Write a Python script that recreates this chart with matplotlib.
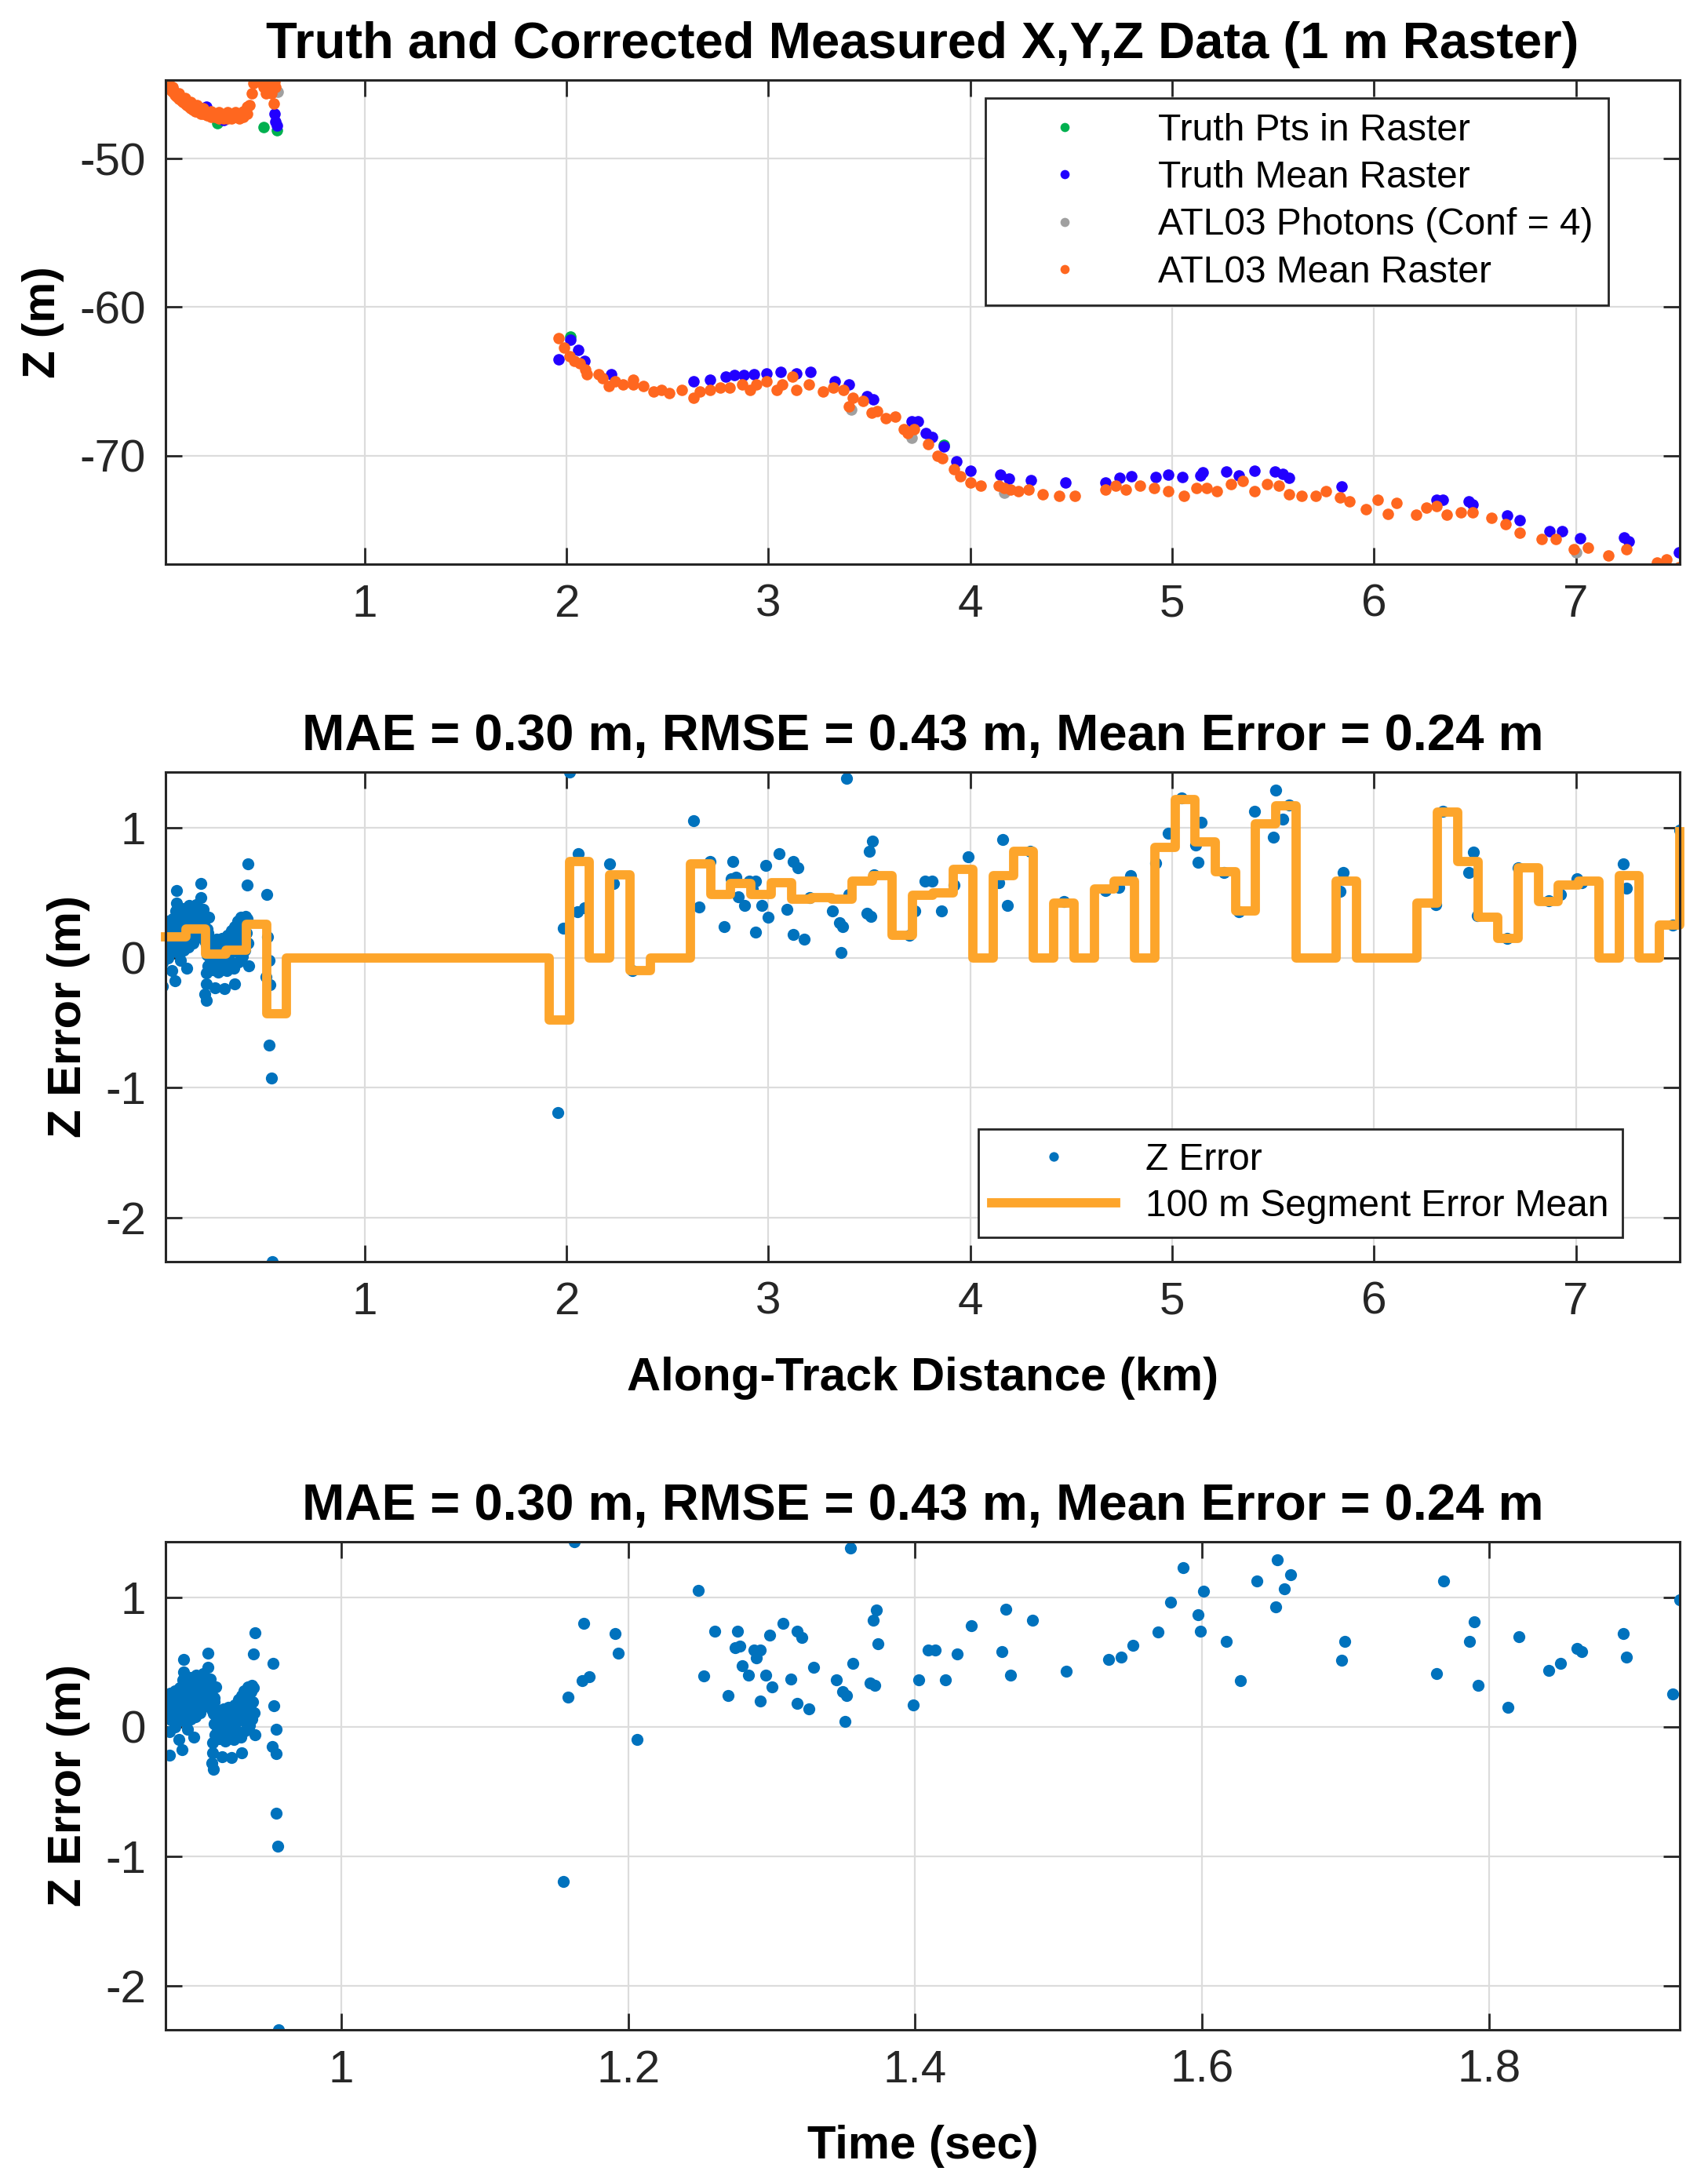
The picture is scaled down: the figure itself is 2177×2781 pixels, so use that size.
import numpy as np
import matplotlib
matplotlib.use("Agg")
import matplotlib.pyplot as plt
from matplotlib.ticker import FormatStrFormatter

plt.rcParams['font.family'] = ['Liberation Sans', 'DejaVu Sans']
plt.rcParams['axes.unicode_minus'] = False

# ---------------- top panel data (along-track km, Z m) ----------------
atl_mean_d = [0.016, 0.02, 0.03, 0.04, 0.05, 0.06, 0.07, 0.08, 0.09, 0.10, 0.11, 0.12, 0.13,
              0.14, 0.15, 0.16, 0.17, 0.18, 0.19, 0.20, 0.22, 0.24, 0.26, 0.28, 0.30, 0.32,
              0.34, 0.36, 0.38, 0.40, 0.42, 0.43, 0.44, 0.45, 0.46, 0.47, 0.48, 0.49, 0.50,
              0.51, 0.52, 0.53, 0.54, 0.55, 0.555, 0.56,
              0.03, 0.05, 0.08, 0.11, 0.14, 0.17, 0.20, 0.24, 0.28, 0.32, 0.36, 0.40, 0.42,
              1.962, 1.988, 2.014, 2.04, 2.066, 2.092, 2.10, 2.16, 2.18, 2.21, 2.24, 2.28,
              2.33, 2.33, 2.38, 2.43, 2.47, 2.51, 2.57, 2.63, 2.66, 2.71, 2.76, 2.81, 2.87,
              2.91, 2.94, 2.99, 3.04, 3.07, 3.12, 3.14, 3.20, 3.27, 3.32, 3.37, 3.40, 3.42,
              3.47, 3.51, 3.54, 3.58, 3.63, 3.67, 3.69, 3.72, 3.79, 3.84, 3.86, 3.92, 3.95,
              4.00, 4.05, 4.14, 4.17, 4.20, 4.24, 4.29, 4.36, 4.44, 4.52, 4.67, 4.72, 4.77,
              4.84, 4.91, 4.98, 5.06, 5.12, 5.17, 5.22, 5.29, 5.35, 5.41, 5.47, 5.53, 5.58,
              5.64, 5.71, 5.76, 5.83, 5.88, 5.96, 6.02, 6.07, 6.11, 6.21, 6.26, 6.31, 6.36,
              6.43, 6.49, 6.58, 6.65, 6.72, 6.83, 6.90, 6.99, 7.06, 7.16, 7.25, 7.40, 7.45,
              7.51]
atl_mean_z = [-44.7, -45.0, -45.2, -45.4, -45.5, -45.7, -45.8, -46.0, -46.1, -46.2, -46.3, -46.4, -46.5,
              -46.6, -46.7, -46.8, -46.8, -46.9, -47.0, -47.0, -47.1, -47.2, -47.2, -47.3, -47.3, -47.3,
              -47.3, -47.2, -47.3, -47.2, -47.0, -46.4, -45.6, -44.9, -44.7, -44.7, -44.8, -44.7, -45.2,
              -45.6, -45.0, -44.8, -45.6, -46.3, -44.8, -45.2,
              -44.9, -45.2, -45.6, -45.9, -46.2, -46.4, -46.6, -46.8, -46.9, -46.9, -46.9, -46.8, -46.5,
              -62.1, -62.7, -63.3, -63.6, -63.8, -64.2, -64.5, -64.5, -64.8, -65.3, -65.0, -65.2,
              -64.9, -65.2, -65.3, -65.7, -65.6, -65.8, -65.6, -66.1, -65.7, -65.6, -65.4, -65.4, -65.2,
              -65.6, -65.2, -65.0, -65.6, -65.2, -64.7, -65.6, -65.2, -65.7, -65.4, -65.6, -66.7, -66.1,
              -66.3, -67.1, -67.0, -67.5, -67.4, -68.2, -68.5, -68.2, -69.2, -70.0, -70.2, -70.9, -71.4,
              -71.8, -72.0, -72.0, -72.2, -72.3, -72.4, -72.3, -72.6, -72.7, -72.7, -72.3, -72.0, -72.3,
              -72.0, -72.2, -72.4, -72.7, -72.2, -72.2, -72.4, -71.9, -71.7, -72.4, -71.9, -72.0, -72.6,
              -72.7, -72.7, -72.4, -72.8, -73.1, -73.6, -73.0, -73.9, -73.2, -74.0, -73.5, -73.4, -74.0,
              -73.8, -73.8, -74.2, -74.6, -75.2, -75.6, -75.6, -76.3, -76.2, -76.7, -76.3, -77.2, -77.0,
              -77.5]

truth_mean_d = [0.02, 0.05, 0.09, 0.13, 0.19, 0.216, 0.30, 0.555, 0.56, 0.565,
                1.962, 2.02, 2.06, 2.09, 2.22, 2.63, 2.71, 2.79, 2.83, 2.88, 2.93, 2.99, 3.06,
                3.14, 3.21, 3.33, 3.40, 3.49, 3.52, 3.71, 3.74, 3.78, 3.81, 3.87, 3.93, 4.00,
                4.15, 4.19, 4.30, 4.47, 4.67, 4.74, 4.80, 4.92, 4.98, 5.05, 5.14, 5.15, 5.27,
                5.33, 5.41, 5.51, 5.55, 5.58, 5.84, 6.31, 6.34, 6.47, 6.49, 6.66, 6.72, 6.87,
                6.93, 7.02, 7.24, 7.26, 7.51]
truth_mean_z = [-44.8, -45.3, -45.9, -46.3, -46.6, -46.5, -47.4, -47.0, -47.5, -47.8,
                -63.5, -62.2, -62.9, -63.6, -64.5, -65.0, -64.9, -64.7, -64.6, -64.6, -64.5, -64.45, -64.35,
                -64.45, -64.35, -65.0, -65.2, -66.0, -66.2, -67.7, -67.7, -68.5, -68.75, -69.4, -70.4, -71.0,
                -71.3, -71.55, -71.65, -71.8, -71.8, -71.5, -71.4, -71.45, -71.3, -71.45, -71.33, -71.1, -71.07,
                -71.33, -71.0, -71.07, -71.25, -71.5, -72.05, -73.0, -73.0, -73.1, -73.3, -74.05, -74.37, -75.07,
                -75.1, -75.57, -75.52, -75.8, -76.5]

truth_pts_d = [0.27, 0.50, 0.565, 2.02, 3.87]
truth_pts_z = [-47.6, -47.9, -48.1, -62.0, -69.3]

photon_d = [0.57, 3.41, 3.71, 4.17, 7.0]
photon_z = [-45.5, -66.9, -68.8, -72.5, -76.5]

# ---------------- Z error points (read against time, sec) ----------------
err_time = [
    # first cluster
    0.8800, 0.8805, 0.8810, 0.8815, 0.8820, 0.8828, 0.8832, 0.8840, 0.8845, 0.8850, 0.8858,
    0.8862, 0.8870, 0.8875, 0.8880, 0.8886, 0.8890, 0.8897, 0.8902, 0.8908, 0.8912, 0.8920,
    0.8925, 0.8930, 0.8936, 0.8942, 0.8948, 0.8952, 0.8958, 0.8963, 0.8970, 0.8975, 0.8980,
    0.8986, 0.8992, 0.8998, 0.9004, 0.9010, 0.9016, 0.9022, 0.9028, 0.9034, 0.9040, 0.9046,
    0.9052, 0.9058, 0.9064, 0.9070, 0.9076, 0.9082, 0.9088, 0.9094, 0.9100, 0.9108, 0.9115,
    0.8902, 0.9071, 0.8990, 0.8900, 0.9126, 0.9117, 0.8806, 0.8871, 0.8971, 0.8889, 0.8806,
    0.8840, 0.8930,
    # second cluster
    0.9110, 0.9115, 0.9120, 0.9126, 0.9132, 0.9138, 0.9144, 0.9150, 0.9156, 0.9162, 0.9168,
    0.9174, 0.9180, 0.9186, 0.9192, 0.9198, 0.9204, 0.9210, 0.9216, 0.9222, 0.9228, 0.9234,
    0.9240, 0.9246, 0.9252, 0.9258, 0.9264, 0.9270, 0.9276, 0.9282, 0.9288, 0.9294, 0.9300,
    0.9306, 0.9312, 0.9318, 0.9324, 0.9330, 0.9336, 0.9342, 0.9348, 0.9354, 0.9360, 0.9366,
    0.9372, 0.9378, 0.9384, 0.9390, 0.9396, 0.9400,
    0.9107, 0.9107, 0.9171, 0.9235, 0.9305, 0.9099, 0.9110, 0.9380, 0.9362, 0.9399, 0.9389,
    0.9526, 0.9532, 0.9545, 0.9520, 0.9549, 0.9545, 0.9560, 0.9566,
    # rest of the track
    1.1548, 1.1582, 1.1626, 1.1682, 1.1689, 1.1729, 1.1908, 1.1933, 1.2064, 1.2488, 1.2527,
    1.2603, 1.2697, 1.2748, 1.2761, 1.2779, 1.2797, 1.2839, 1.2875, 1.2894, 1.2919, 1.2919,
    1.2961, 1.2988, 1.3003, 1.3079, 1.3133, 1.3179, 1.3179, 1.3210, 1.3257, 1.3291, 1.3451,
    1.3497, 1.3511, 1.3519, 1.3548, 1.3566, 1.3688, 1.3706, 1.3719, 1.3730, 1.3739, 1.3984,
    1.4024, 1.4093, 1.4142, 1.4209, 1.4293, 1.4393, 1.4602, 1.4632, 1.4664, 1.4820, 1.5055,
    1.5346, 1.5434, 1.5518, 1.5690, 1.5781, 1.5869, 1.5969, 1.5985, 1.6010, 1.6166, 1.6267,
    1.6379, 1.6510, 1.6523, 1.6573, 1.6617, 1.6970, 1.6992, 1.7634, 1.7681, 1.7862, 1.7894,
    1.7925, 1.8129, 1.8207, 1.8417, 1.8498, 1.8614, 1.8645, 1.8936, 1.8958, 1.9280, 1.9327]
err_z = [
    0.20, 0.12, 0.26, 0.05, 0.17, 0.22, 0.09, 0.28, 0.14, 0.03, 0.20,
    0.25, 0.11, 0.30, 0.17, 0.07, 0.22, 0.36, 0.14, 0.26, 0.04, 0.19,
    0.31, 0.10, 0.24, 0.16, 0.38, 0.06, 0.28, 0.20, 0.12, 0.33, 0.23,
    0.08, 0.27, 0.17, 0.35, 0.21, 0.11, 0.30, 0.24, 0.15, 0.41, 0.27,
    0.19, 0.33, 0.23, 0.46, 0.29, 0.18, 0.37, 0.25, 0.13, 0.31, 0.22,
    0.52, 0.57, 0.40, 0.42, 0.31, 0.19, -0.04, -0.10, -0.08, -0.18, -0.22,
    0.00, -0.02,
    0.10, 0.02, -0.06, 0.13, 0.05, -0.03, 0.09, -0.09, 0.12, 0.01, 0.07,
    -0.05, 0.14, 0.03, -0.11, 0.10, -0.02, 0.06, 0.15, -0.07, 0.04, 0.11,
    -0.01, 0.08, -0.10, 0.17, 0.02, 0.12, -0.04, 0.21, 0.07, 0.15, -0.08,
    0.24, 0.05, 0.13, 0.28, -0.03, 0.18, 0.09, 0.31, 0.22, 0.01, 0.14,
    0.27, 0.06, 0.19, 0.30, 0.11, -0.06,
    -0.12, -0.20, -0.23, -0.24, -0.20, -0.28, -0.33, 0.32, 0.29, 0.725, 0.56,
    0.49, 0.16, -0.02, -0.15, -0.21, -0.67, -0.925, -2.34,
    -1.195, 0.23, 1.43, 0.357, 0.80, 0.385, 0.72, 0.57, -0.10, 1.055, 0.39,
    0.74, 0.24, 0.61, 0.74, 0.62, 0.47, 0.40, 0.59, 0.53, 0.59, 0.20,
    0.40, 0.71, 0.31, 0.80, 0.37, 0.74, 0.18, 0.69, 0.14, 0.46, 0.36,
    0.27, 0.04, 0.24, 1.38, 0.49, 0.34, 0.82, 0.32, 0.90, 0.64, 0.17,
    0.36, 0.59, 0.59, 0.36, 0.56, 0.78, 0.58, 0.91, 0.40, 0.82, 0.43,
    0.52, 0.54, 0.63, 0.73, 0.96, 1.23, 0.865, 0.737, 1.045, 0.657, 0.356,
    1.125, 0.927, 1.29, 1.066, 1.176, 0.512, 0.657, 0.408, 1.125, 0.657, 0.813,
    0.322, 0.149, 0.695, 0.436, 0.488, 0.606, 0.58, 0.72, 0.536, 0.253, 0.98]

REF_TIME, REF_DIST, SEC_PER_KM = 1.155, 1.96, 0.14

# 100 m segment error means (one value per segment, last value closes the stairs)
SEG_START_KM, SEG_LEN_KM = 0.014, 0.1
seg_mean = [0.16, 0.22, 0.03, 0.06, 0.26, -0.43,
            0, 0, 0, 0, 0, 0, 0, 0, 0, 0, 0, 0, 0,
            -0.48, 0.74, 0.0, 0.64, -0.10, 0, 0,
            0.72, 0.49, 0.57, 0.49, 0.58, 0.45, 0.46, 0.45, 0.59, 0.63, 0.17, 0.48, 0.50, 0.68,
            0, 0.63, 0.82, 0, 0.42, 0, 0.53, 0.59, 0, 0.85,
            1.22, 0.89, 0.66, 0.36, 1.03, 1.17, 0, 0, 0.59, 0, 0, 0,
            0.42, 1.12, 0.74, 0.31, 0.15, 0.69, 0.43, 0.56,
            0.59, 0, 0.63, 0, 0.25, 0.97]

stats_title = 'MAE = 0.30 m, RMSE = 0.43 m, Mean Error = 0.24 m'

ERR_BLUE = '#0072BD'
STEP_ORANGE = '#FDA52B'
AX_COLOR = '#262626'
DOT = dict(marker='o', linestyle='none', markersize=10.5, markeredgewidth=0)
ERR_DOT = dict(marker='o', linestyle='none', markersize=11, markeredgewidth=0)

err_time = np.array(err_time)
err_z = np.array(err_z)
err_dist = REF_DIST + (err_time - REF_TIME) / SEC_PER_KM
seg_edges = SEG_START_KM + SEG_LEN_KM * np.arange(len(seg_mean))

fig = plt.figure(figsize=(21.77, 27.81), dpi=100)
ax1 = fig.add_axes([0.0969, 0.7415, 0.8865, 0.2219])
ax2 = fig.add_axes([0.0969, 0.4218, 0.8865, 0.2244])
ax3 = fig.add_axes([0.0969, 0.0698, 0.8865, 0.2237])


def style(ax):
    ax.grid(True, color='#dcdcdc', linewidth=1.6)
    ax.set_axisbelow(True)
    ax.tick_params(direction='in', top=True, right=True, length=15, width=2,
                   labelsize=42, colors=AX_COLOR, pad=18)
    for s in ax.spines.values():
        s.set_color(AX_COLOR)
        s.set_linewidth(2.2)
    ax.xaxis.set_major_formatter(FormatStrFormatter('%g'))
    ax.yaxis.set_major_formatter(FormatStrFormatter('%g'))


# top panel
ax1.plot(truth_pts_d, truth_pts_z, color='#00B04F', label='Truth Pts in Raster', **DOT)
ax1.plot(truth_mean_d, truth_mean_z, color='#2200FF', label='Truth Mean Raster', **DOT)
ax1.plot(photon_d, photon_z, color='#A0A0A0', label='ATL03 Photons (Conf = 4)', **DOT)
ax1.plot(atl_mean_d, atl_mean_z, color='#FF671F', label='ATL03 Mean Raster', **DOT)
ax1.set_xlim(0.014, 7.514)
ax1.set_ylim(-77.3, -44.7)
ax1.set_xticks([1, 2, 3, 4, 5, 6, 7])
ax1.set_yticks([-70, -60, -50])
style(ax1)
ax1.set_ylabel('Z (m)', fontsize=42, fontweight='bold', labelpad=14)
ax1.set_title('Truth and Corrected Measured X,Y,Z Data (1 m Raster)',
              fontsize=47, fontweight='bold', pad=20)
leg1 = ax1.legend(loc='upper right', bbox_to_anchor=(0.953, 0.963), fontsize=34.5,
                  frameon=True, fancybox=False, edgecolor=AX_COLOR, framealpha=1,
                  markerscale=0.8, handlelength=3.4, borderpad=0.4, labelspacing=0.32,
                  borderaxespad=0)
leg1.get_frame().set_linewidth(2)

# middle panel
ax2.plot(err_dist, err_z, color=ERR_BLUE, label='Z Error', **ERR_DOT)
ax2.step(seg_edges, seg_mean, where='post', color=STEP_ORANGE, linewidth=8.5,
         clip_on=False, label='100 m Segment Error Mean')
ax2.set_xlim(0.014, 7.514)
ax2.set_ylim(-2.34, 1.43)
ax2.set_xticks([1, 2, 3, 4, 5, 6, 7])
ax2.set_yticks([-2, -1, 0, 1])
style(ax2)
ax2.set_ylabel('Z Error (m)', fontsize=43, fontweight='bold', labelpad=14)
ax2.set_xlabel('Along-Track Distance (km)', fontsize=43, fontweight='bold', labelpad=30)
ax2.set_title(stats_title, fontsize=47, fontweight='bold', pad=20)
leg2 = ax2.legend(loc='lower right', bbox_to_anchor=(0.962, 0.05), fontsize=34.5,
                  frameon=True, fancybox=False, edgecolor=AX_COLOR, framealpha=1,
                  markerscale=0.8, handlelength=3.3, borderpad=0.35, labelspacing=0.3,
                  borderaxespad=0)
leg2.get_frame().set_linewidth(2)

# bottom panel
ax3.plot(err_time, err_z, color=ERR_BLUE, **ERR_DOT)
ax3.set_xlim(0.8776, 1.9327)
ax3.set_ylim(-2.34, 1.43)
ax3.set_xticks([1, 1.2, 1.4, 1.6, 1.8])
ax3.set_yticks([-2, -1, 0, 1])
style(ax3)
ax3.set_ylabel('Z Error (m)', fontsize=43, fontweight='bold', labelpad=14)
ax3.set_xlabel('Time (sec)', fontsize=43, fontweight='bold', labelpad=30)
ax3.set_title(stats_title, fontsize=47, fontweight='bold', pad=20)

fig.savefig('out.png', dpi=100)
